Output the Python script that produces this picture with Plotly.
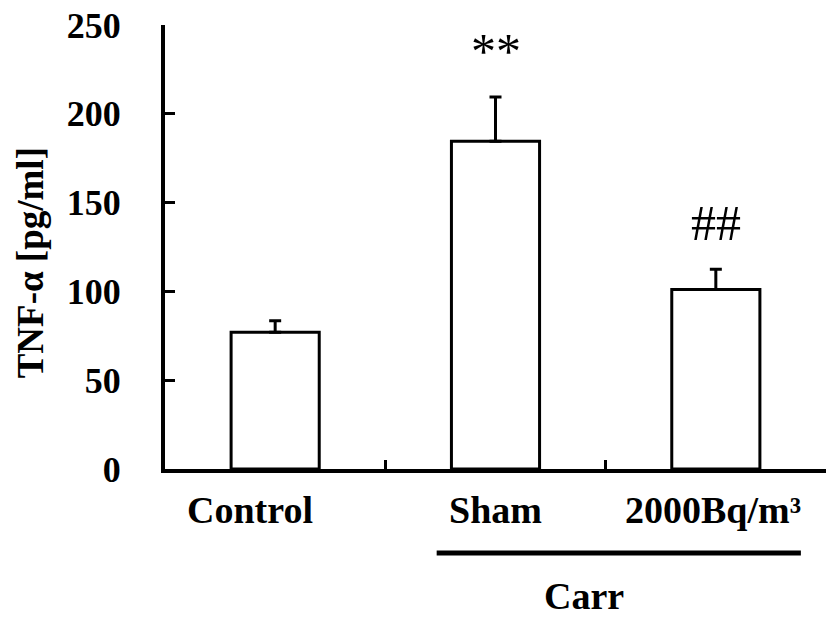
import plotly.graph_objects as go

categories = ["Control", "Sham", "2000Bq/m³"]
means = [77, 184.5, 101]
errors = [6.5, 25, 11.5]
marks = ["", "**", "##"]
y_ticks = [0, 50, 100, 150, 200, 250]
group_label = "Carr"

FONT = "Liberation Serif"

fig = go.Figure(
    go.Bar(
        x=categories,
        y=means,
        width=0.40,
        marker=dict(color="white", line=dict(color="black", width=3)),
        error_y=dict(
            type="data",
            symmetric=False,
            array=errors,
            arrayminus=[0] * len(errors),
            color="black",
            thickness=3,
            width=6,
        ),
        showlegend=False,
    )
)

# significance marks
for cat, m, e, s in zip(categories, means, errors, marks):
    if s:
        fig.add_annotation(
            x=cat, y=m + e, xref="x", yref="y", text=s, showarrow=False,
            yanchor="middle", yshift=46,
            font=dict(family=FONT, size=50, color="black"),
        )

# category labels
label_shift = [-25, 0, -3]
for cat, sh in zip(categories, label_shift):
    fig.add_annotation(
        x=cat, y=0, xref="x", yref="y", text=cat, showarrow=False,
        xshift=sh, yshift=-41, yanchor="middle",
        font=dict(family=FONT, size=38, color="black", weight="bold"),
    )

# group underline and label
fig.add_shape(type="line", xref="paper", yref="paper",
              x0=0.411, x1=0.962, y0=-0.189, y1=-0.189,
              line=dict(color="black", width=5))
fig.add_annotation(
    x=0.697, y=-0.285, xref="paper", yref="paper", text=group_label,
    showarrow=False, yanchor="middle",
    font=dict(family=FONT, size=38, color="black", weight="bold"),
)

# y title
fig.add_annotation(
    x=-0.203, y=0.465, xref="paper", yref="paper", text="TNF-α [pg/ml]",
    showarrow=False, textangle=-90, xanchor="center", yanchor="middle",
    font=dict(family=FONT, size=37, color="black", weight="bold"),
)

fig.update_layout(
    width=826, height=621,
    margin=dict(l=165, r=0, t=25, b=152),
    paper_bgcolor="white", plot_bgcolor="white",
    xaxis=dict(
        range=[-0.5, 2.5], showline=True, linecolor="black", linewidth=4,
        ticks="inside", tickson="boundaries", ticklen=9, tickwidth=3,
        tickcolor="black", showticklabels=False, showgrid=False, zeroline=False,
        fixedrange=True,
    ),
    yaxis=dict(
        range=[0, 250], tickvals=y_ticks, showline=True, linecolor="black",
        linewidth=4, ticks="inside", ticklen=10, tickwidth=3, tickcolor="black",
        showgrid=False, zeroline=False, ticklabelstandoff=33,
        tickfont=dict(family=FONT, size=36, color="black", weight="bold"),
    ),
)

fig.write_html("out.html")
